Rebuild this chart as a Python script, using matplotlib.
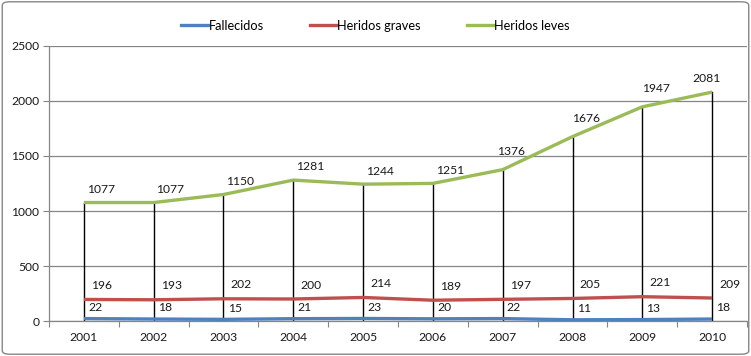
import matplotlib as mpl
mpl.use('Agg')
import matplotlib.pyplot as plt
from matplotlib.patches import FancyBboxPatch
from matplotlib.lines import Line2D

plt.rcParams['font.family'] = ['Lato', 'DejaVu Sans']

years = ['2001', '2002', '2003', '2004', '2005', '2006', '2007', '2008', '2009', '2010']
fallecidos = [22, 18, 15, 21, 23, 20, 22, 11, 13, 18]
graves = [196, 193, 202, 200, 214, 189, 197, 205, 221, 209]
leves = [1077, 1077, 1150, 1281, 1244, 1251, 1376, 1676, 1947, 2081]

names = ['Fallecidos', 'Heridos graves', 'Heridos leves']
colors = ['#4F81BD', '#C0504D', '#9BBB59']

# label nudges (points) for the Heridos leves labels that Excel placed differently
leves_nudge = {6: (-4, 9), 7: (0, 9), 8: (0, 9), 9: (-14, 6)}

fig = plt.figure(figsize=(7.51, 3.56), dpi=100)
ax = fig.add_axes([0.0652, 0.0983, 0.9295, 0.7725])

x = list(range(len(years)))
series = [fallecidos, graves, leves]

# drop lines
for i in x:
    ax.plot([i, i], [0, max(s[i] for s in series)], color='black', lw=1.0, zorder=2)

for s, c in zip(series, colors):
    ax.plot(x, s, color=c, lw=2.4, solid_capstyle='butt', solid_joinstyle='round', zorder=3)

# data labels
lab_kw = dict(fontsize=8.7, color='#1a1a1a', zorder=4)
for i in x:
    ax.annotate(str(fallecidos[i]), (i, fallecidos[i]), xytext=(3, 4),
                textcoords='offset points', ha='left', va='bottom', **lab_kw)
    ax.annotate(str(graves[i]), (i, graves[i]), xytext=(5, 6),
                textcoords='offset points', ha='left', va='bottom', **lab_kw)
    dx, dy = leves_nudge.get(i, (2, 5.5))
    ax.annotate(str(leves[i]), (i, leves[i]), xytext=(dx, dy),
                textcoords='offset points', ha='left', va='bottom', **lab_kw)

ax.set_xlim(-0.5, len(years) - 0.5)
ax.set_ylim(0, 2500)
ax.set_yticks(range(0, 2501, 500))
ax.set_xticks([i - 0.5 for i in range(len(years) + 1)])
ax.set_xticklabels([])
ax.set_xticks(x, minor=True)
ax.set_xticklabels(years, minor=True)
ax.tick_params(axis='x', which='major', length=4, color='#868686', direction='out')
ax.tick_params(axis='x', which='minor', length=0, pad=8, labelsize=8.7, labelcolor='#1a1a1a')
ax.tick_params(axis='y', length=4, color='#868686', labelsize=8.7, labelcolor='#1a1a1a', pad=3)
ax.grid(axis='y', color='#868686', lw=0.9)
ax.set_axisbelow(True)
for sp in ['top', 'right']:
    ax.spines[sp].set_visible(False)
for sp in ['left', 'bottom']:
    ax.spines[sp].set_color('#868686')
    ax.spines[sp].set_linewidth(0.9)

handles = [Line2D([], [], color=c, lw=2.4) for c in colors]
fig.legend(handles, names, loc='center', bbox_to_anchor=(0.5, 0.928), ncol=3,
           frameon=False, fontsize=9.2, handlelength=2.1, handletextpad=0.05,
           columnspacing=3.6)

fig.patches.append(FancyBboxPatch((0.003, 0.005), 0.994, 0.99,
                                  boxstyle='round,pad=0,rounding_size=0.01',
                                  transform=fig.transFigure, facecolor='none',
                                  edgecolor='#868686', lw=1.0))

fig.savefig('out.png', dpi=100)
